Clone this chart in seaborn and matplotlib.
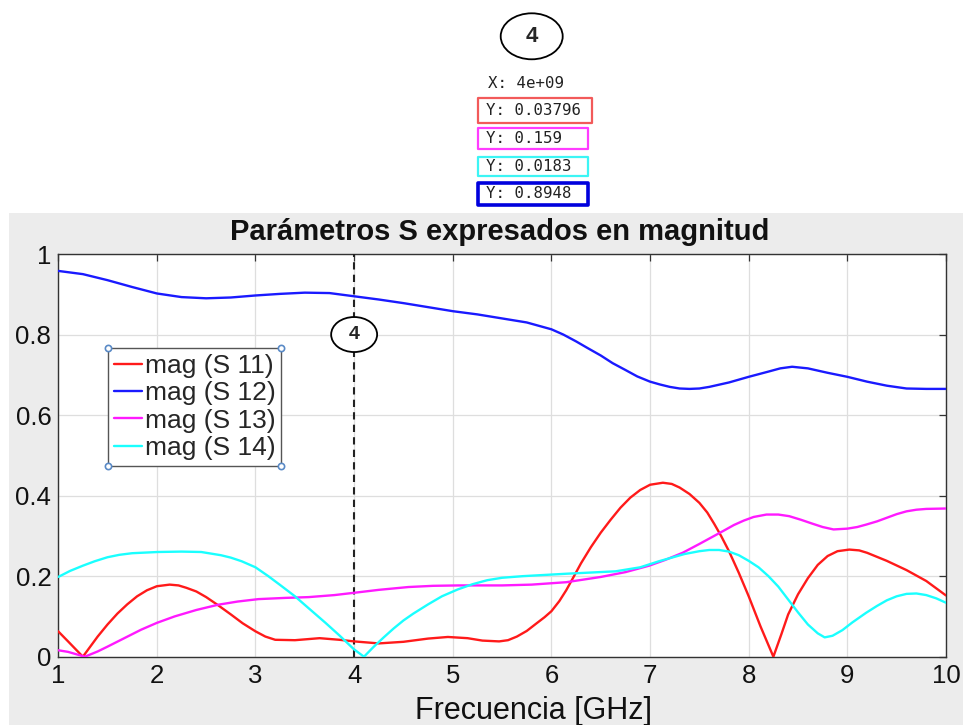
import matplotlib
matplotlib.use("Agg")
import matplotlib.pyplot as plt
import seaborn as sns
from matplotlib.patches import Ellipse, Rectangle
from matplotlib.lines import Line2D

# ---------------- data ----------------
s11_x = [1.0, 1.1, 1.25, 1.4, 1.5, 1.6, 1.7, 1.8, 1.9, 2.0, 2.13, 2.22, 2.3, 2.4, 2.5,
         2.62, 2.75, 2.87, 3.0, 3.1, 3.2, 3.4, 3.65, 3.85, 4.0, 4.25, 4.5, 4.75, 4.95,
         5.15, 5.3, 5.47, 5.56, 5.65, 5.75, 5.85, 5.93, 6.0, 6.08, 6.15, 6.22, 6.3, 6.4,
         6.5, 6.6, 6.7, 6.8, 6.9, 7.0, 7.13, 7.22, 7.3, 7.4, 7.5, 7.58, 7.65, 7.72, 7.8,
         7.9, 8.0, 8.12, 8.25, 8.33, 8.4, 8.5, 8.6, 8.7, 8.8, 8.9, 9.02, 9.12, 9.2, 9.4,
         9.6, 9.8, 10.0]
s11_y = [0.063, 0.038, 0.0, 0.05, 0.08, 0.107, 0.13, 0.15, 0.165, 0.175, 0.179, 0.177,
         0.171, 0.162, 0.148, 0.128, 0.105, 0.083, 0.063, 0.05, 0.042, 0.041, 0.046,
         0.042, 0.038, 0.033, 0.037, 0.045, 0.049, 0.046, 0.040, 0.038, 0.041, 0.05,
         0.064, 0.083, 0.098, 0.113, 0.138, 0.165, 0.196, 0.232, 0.272, 0.308, 0.34,
         0.37, 0.395, 0.414, 0.427, 0.432, 0.429, 0.42, 0.404, 0.382, 0.358, 0.33, 0.3,
         0.262, 0.208, 0.15, 0.075, 0.0, 0.055, 0.105, 0.155, 0.195, 0.228, 0.25, 0.262,
         0.266, 0.264, 0.258, 0.238, 0.215, 0.188, 0.152]

s12_x = [1.0, 1.25, 1.5, 1.75, 2.0, 2.25, 2.5, 2.75, 3.0, 3.25, 3.5, 3.75, 4.0, 4.25,
         4.5, 4.75, 5.0, 5.25, 5.5, 5.75, 6.0, 6.12, 6.25, 6.37, 6.5, 6.62, 6.75, 6.87,
         7.0, 7.1, 7.2, 7.3, 7.4, 7.5, 7.6, 7.8, 8.0, 8.2, 8.32, 8.44, 8.6, 8.8, 9.0,
         9.2, 9.4, 9.6, 9.8, 10.0]
s12_y = [0.958, 0.95, 0.935, 0.918, 0.902, 0.893, 0.89, 0.892, 0.897, 0.901, 0.904,
         0.903, 0.895, 0.887, 0.878, 0.868, 0.858, 0.85, 0.840, 0.830, 0.813, 0.80,
         0.783, 0.766, 0.748, 0.729, 0.712, 0.696, 0.683, 0.676, 0.670, 0.666, 0.665,
         0.666, 0.670, 0.681, 0.695, 0.708, 0.716, 0.720, 0.716, 0.705, 0.695, 0.683,
         0.673, 0.666, 0.665, 0.665]

s13_x = [1.0, 1.1, 1.27, 1.4, 1.5, 1.67, 1.84, 2.0, 2.18, 2.4, 2.62, 2.82, 3.03, 3.3,
         3.54, 3.8, 4.01, 4.25, 4.55, 4.8, 5.06, 5.5, 5.8, 6.15, 6.5, 6.75, 6.99, 7.15,
         7.33, 7.5, 7.62, 7.74, 7.85, 7.95, 8.05, 8.18, 8.3, 8.41, 8.53, 8.65, 8.75,
         8.86, 9.0, 9.1, 9.19, 9.3, 9.4, 9.5, 9.6, 9.7, 9.8, 10.0]
s13_y = [0.016, 0.012, 0.0, 0.013, 0.025, 0.046, 0.067, 0.084, 0.10, 0.116, 0.129,
         0.137, 0.143, 0.146, 0.148, 0.153, 0.159, 0.166, 0.173, 0.176, 0.177, 0.177,
         0.179, 0.185, 0.198, 0.21, 0.226, 0.24, 0.258, 0.28, 0.296, 0.312, 0.327,
         0.338, 0.347, 0.353, 0.353, 0.349, 0.34, 0.33, 0.322, 0.316, 0.318, 0.322,
         0.328, 0.336, 0.345, 0.354, 0.361, 0.365, 0.367, 0.368]

s14_x = [1.0, 1.12, 1.25, 1.37, 1.5, 1.62, 1.75, 2.01, 2.25, 2.45, 2.65, 2.75, 2.86,
         3.0, 3.13, 3.25, 3.4, 3.55, 3.71, 3.85, 4.0, 4.1, 4.2, 4.3, 4.4, 4.5, 4.6,
         4.75, 4.89, 5.05, 5.2, 5.35, 5.5, 5.71, 6.15, 6.65, 6.9, 7.09, 7.35, 7.5, 7.6,
         7.7, 7.8, 7.9, 8.0, 8.1, 8.2, 8.3, 8.4, 8.5, 8.6, 8.7, 8.77, 8.85, 8.95, 9.05,
         9.19, 9.3, 9.4, 9.5, 9.6, 9.7, 9.8, 9.9, 10.0]
s14_y = [0.198, 0.213, 0.226, 0.237, 0.247, 0.253, 0.257, 0.26, 0.261, 0.26, 0.252,
         0.246, 0.237, 0.222, 0.2, 0.178, 0.15, 0.118, 0.084, 0.053, 0.018, 0.0, 0.025,
         0.048, 0.07, 0.09, 0.107, 0.13, 0.15, 0.167, 0.18, 0.19, 0.196, 0.2, 0.206,
         0.212, 0.222, 0.237, 0.255, 0.262, 0.265, 0.265, 0.261, 0.252, 0.238, 0.222,
         0.2, 0.174, 0.142, 0.11, 0.08, 0.058, 0.048, 0.052, 0.066, 0.085, 0.109, 0.126,
         0.14, 0.15, 0.156, 0.157, 0.153, 0.145, 0.134]

series_names = ["mag (S 11)", "mag (S 12)", "mag (S 13)", "mag (S 14)"]
series_colors = ["#ff1a1a", "#1a1aff", "#ff1aff", "#1affff"]

x_ticks = [1, 2, 3, 4, 5, 6, 7, 8, 9, 10]
y_ticks = [0, 0.2, 0.4, 0.6, 0.8, 1.0]
y_tick_labels = ["0", "0.2", "0.4", "0.6", "0.8", "1"]

cursor_x = 4
cursor_label = "4"
cursor_xtext = "X: 4e+09"
cursor_ytexts = ["Y: 0.03796", "Y: 0.159", "Y: 0.0183", "Y: 0.8948"]
cursor_box_colors = ["#f25a5a", "#ff3cff", "#3cf5f5", "#0000dd"]

title = "Parámetros S expresados en magnitud"
xlabel = "Frecuencia [GHz]"

# ---------------- figure ----------------
sns.set_style("white")
plt.rcParams['font.family'] = ['Liberation Sans', 'DejaVu Sans']

W, H = 963, 725
fig = plt.figure(figsize=(W / 100, H / 100), dpi=100)
fig.patch.set_facecolor("white")


def fx(px):
    return px / W


def fy(py):
    return 1 - py / H


bg = Rectangle((fx(9), 0), 1 - fx(9), fy(213), transform=fig.transFigure,
               facecolor="#ececec", edgecolor="none", zorder=-10)
fig.add_artist(bg)

AX_L, AX_R, AX_T, AX_B = 58.2, 946.0, 254.0, 656.7
ax = fig.add_axes([fx(AX_L), fy(AX_B), fx(AX_R) - fx(AX_L), fy(AX_T) - fy(AX_B)])
ax.set_zorder(1)
ax.set_facecolor("white")

all_x = [s11_x, s12_x, s13_x, s14_x]
all_y = [s11_y, s12_y, s13_y, s14_y]
for xs, ys, name, col in zip(all_x, all_y, series_names, series_colors):
    sns.lineplot(x=xs, y=ys, color=col, lw=1.7, label=name, ax=ax, errorbar=None,
                 zorder=4, solid_joinstyle="round")

ax.set_xlim(1, 10)
ax.set_ylim(0, 1)
ax.set_xticks(x_ticks)
ax.set_xticklabels([str(t) for t in x_ticks])
ax.set_yticks(y_ticks)
ax.set_yticklabels(y_tick_labels)
ax.grid(True, color="#dedede", lw=0.9)
ax.set_axisbelow(True)
ax.tick_params(direction="in", length=5, width=0.9, top=True, right=True,
               labelsize=18.5, pad=5, color="#333333", labelcolor="#111111")
for sp in ax.spines.values():
    sp.set_color("#333333")
    sp.set_linewidth(1.0)

ax.set_title(title, fontsize=21, fontweight="bold", pad=10, x=0.497, color="#111111")
ax.set_xlabel(xlabel, fontsize=22, color="#111111")
ax.xaxis.set_label_coords(0.535, -0.097)
ax.set_ylabel("")

# cursor line and marker
ax.axvline(cursor_x, color="#222222", ls=(0, (3.5, 2.5)), lw=1.5, zorder=3)
ax.add_patch(Ellipse((cursor_x, 0.8), width=46 / 98.7, height=35 / 402.7,
                     facecolor="white", edgecolor="black", lw=1.3, zorder=6))
ax.text(cursor_x, 0.8, cursor_label, ha="center", va="center", fontsize=14,
        fontweight="bold", zorder=7)

# legend
leg = ax.legend(loc="upper left",
                bbox_to_anchor=((108 - AX_L) / (AX_R - AX_L), (AX_B - 348.0) / (AX_B - AX_T)),
                borderaxespad=0, fontsize=19, handlelength=1.05, handletextpad=0.12,
                labelspacing=0.13, borderpad=0.22, frameon=True, fancybox=False,
                edgecolor="#555555", framealpha=1)
leg.get_frame().set_linewidth(1.0)
leg.set_zorder(8)

# top data-tip annotations
fig.add_artist(Ellipse((fx(531.7), fy(36.3)), 62 / W, 46 / H, transform=fig.transFigure,
                       facecolor="white", edgecolor="black", lw=1.3))
fig.text(fx(531.7), fy(36.3), cursor_label, ha="center", va="center", fontsize=16,
         fontweight="bold")
fig.text(fx(526), fy(83), cursor_xtext, ha="center", va="center", fontsize=11.3,
         family="DejaVu Sans Mono", color="#222222")

boxes = [(478.3, 591.7, 97.7, 122.7, 1.6), (478.3, 588.3, 127.7, 149.0, 1.6),
         (478.3, 588.3, 156.7, 176.0, 1.6), (478.3, 588.3, 182.7, 205.0, 2.6)]
for (x0, x1, y0, y1, lw), txt, col in zip(boxes, cursor_ytexts, cursor_box_colors):
    fig.add_artist(Rectangle((fx(x0), fy(y1)), (x1 - x0) / W, (y1 - y0) / H,
                             transform=fig.transFigure, facecolor="white",
                             edgecolor=col, lw=lw, joinstyle="round"))
    fig.text(fx(486), fy((y0 + y1) / 2), txt, ha="left", va="center", fontsize=11.3,
             family="DejaVu Sans Mono", color="#222222")

# legend corner handles
fig.canvas.draw()
bb = leg.get_window_extent()
inv = fig.transFigure.inverted()
(lx0, ly0) = inv.transform((bb.x0, bb.y0))
(lx1, ly1) = inv.transform((bb.x1, bb.y1))
corners = Line2D([lx0, lx1, lx0, lx1], [ly0, ly0, ly1, ly1], transform=fig.transFigure,
                 ls="none", marker="o", markersize=4.5, markerfacecolor="white",
                 markeredgecolor="#5a8ac6", markeredgewidth=1.2)
corners.set_zorder(10)
fig.add_artist(corners)

fig.savefig("out.png", dpi=100)
